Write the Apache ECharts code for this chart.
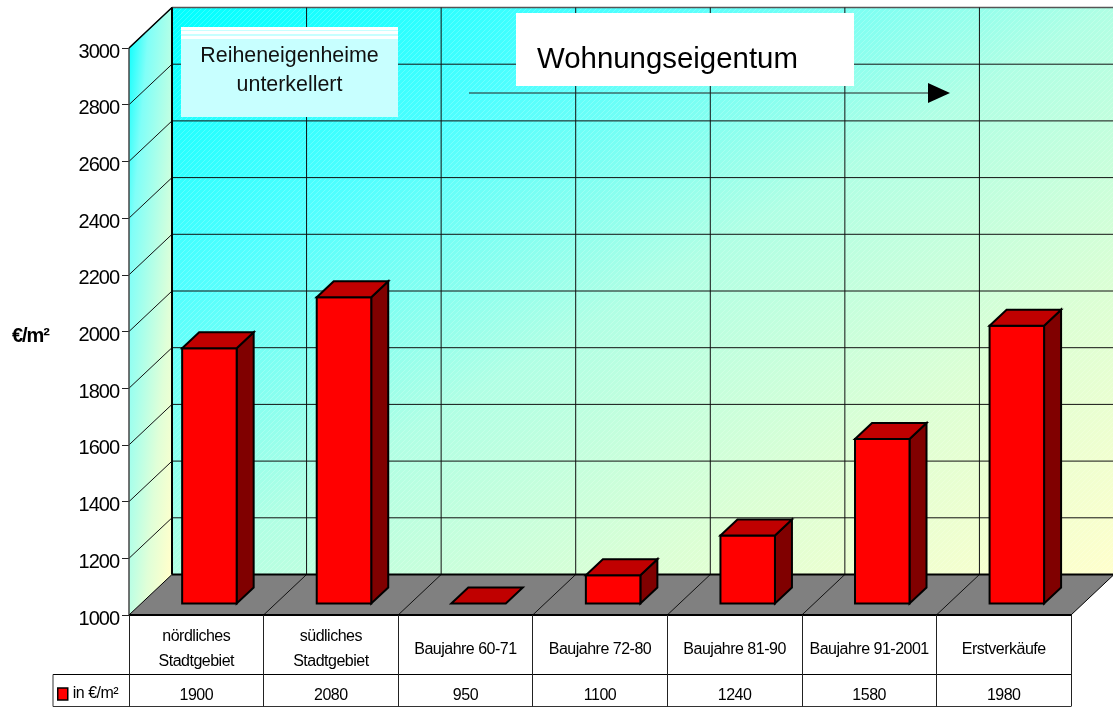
<!DOCTYPE html>
<html><head><meta charset="utf-8">
<style>html,body{margin:0;padding:0;background:#fff}#c{width:1113px;height:709px}</style>
<script src="https://cdn.jsdelivr.net/npm/echarts@6/dist/echarts.min.js"></script>
</head><body><div id="c"></div>
<script>
const categories = ['nördliches\nStadtgebiet','südliches\nStadtgebiet','Baujahre 60-71','Baujahre 72-80','Baujahre 81-90','Baujahre 91-2001','Erstverkäufe'];
const values = [1900,2080,950,1100,1240,1580,1980];
const seriesName = 'in €/m²';
const yMin = 1000, yMax = 3000, yStep = 200;
const FONT = '"Liberation Sans", Arial, sans-serif';
// tight tracking of the axis and table texts, as in the reference
const TRACK = {'20px':'-1px','16px':'-0.5px'};
const origFill = CanvasRenderingContext2D.prototype.fillText;
CanvasRenderingContext2D.prototype.fillText = function(t,x,y,m){
  const s = (this.font.match(/(\d+(?:\.\d+)?px)/)||[])[1];
  this.letterSpacing = TRACK[s] || '0px';
  return m===undefined ? origFill.call(this,t,x,y) : origFill.call(this,t,x,y,m);
};
const chart = echarts.init(document.getElementById('c'));
const WALL = [43,-40.5];
const yTicks = [];
for (let v = yMin; v <= yMax; v += yStep) yTicks.push(v);
const K = '#000';
const tile = document.createElement('canvas');
tile.width = tile.height = 5;
(function(){const c = tile.getContext('2d'); c.fillStyle='rgba(255,255,255,0.2)';
  for(let i=0;i<5;i++) c.fillRect(i,4-i,1,1);})();
function poly(points, fill, stroke, w){
  return {type:'polygon', shape:{points}, style:{fill, stroke:stroke||'none', lineWidth:w||0}, silent:true};
}
function line(a,b,stroke,w){
  return {type:'line', shape:{x1:a[0],y1:a[1],x2:b[0],y2:b[1]}, style:{stroke:stroke||K, lineWidth:w||1}, silent:true};
}
function diagGrad(w,h,stops){
  const k = 2/(1/(w*w)+1/(h*h));
  return new echarts.graphic.LinearGradient(0,0,k/(w*w),k/(h*h),stops);
}
function frame(p, api){
  const n = categories.length;
  const bw = api.size([1,0])[0];
  const xAt = i => api.coord([0,yMin])[0] - bw/2 + i*bw;
  const y0 = api.coord([0,yMin])[1], y1 = api.coord([0,yMax])[1];
  const dx = WALL[0], dy = WALL[1];
  const x0 = xAt(0), xn = xAt(n);
  const grad = diagGrad(xn-x0,y0-y1,[
    {offset:0,color:'#00ffff'},{offset:0.25,color:'#50ffff'},{offset:0.5,color:'#b0ffe4'},{offset:0.75,color:'#dcffd4'},{offset:1,color:'#ffffcc'}]);
  const grad2 = diagGrad(dx,y0-y1,[
    {offset:0,color:'#00ffff'},{offset:0.25,color:'#80fff8'},{offset:0.75,color:'#e0ffd8'},{offset:1,color:'#ffffcc'}]);
  const ch = [];
  const back = [[x0+dx,y1+dy],[xn+dx,y1+dy],[xn+dx,y0+dy],[x0+dx,y0+dy]];
  ch.push(poly(back,grad));
  ch.push({type:'polygon',shape:{points:back},style:{fill:{image:tile,repeat:'repeat'}},silent:true});
  ch.push(poly([[x0,y1],[x0+dx,y1+dy],[x0+dx,y0+dy],[x0,y0]],grad2));
  ch.push(poly([[x0,y0],[x0+dx,y0+dy],[xn+dx,y0+dy],[xn,y0]],'#808080'));
  yTicks.forEach((v,i)=>{
    if(i===0) return;
    const y = api.coord([0,v])[1];
    ch.push(line([x0,y],[x0+dx,y+dy],'#111',1));
    ch.push(line([x0+dx,y+dy],[xn+dx,y+dy],i===yTicks.length-1?'#555':'#111',i===yTicks.length-1?1.5:1));
  });
  for(let i=1;i<n;i++){
    ch.push(line([xAt(i)+dx,y1+dy],[xAt(i)+dx,y0+dy],'#111',1));
    ch.push(line([xAt(i),y0],[xAt(i)+dx,y0+dy],'#111',1));
  }
  ch.push(line([x0+dx,y1+dy],[x0+dx,y0+dy],K,2));
  ch.push(line([x0,y1],[x0,y0],'#444',1.5));
  ch.push(line([x0,y0],[x0+dx,y0+dy],K,1));
  ch.push(line([x0,y1],[x0+dx,y1+dy],K,1.5));
  ch.push(line([x0+dx,y0+dy],[xn+dx,y0+dy],K,2));
  ch.push(line([x0,y0],[xn,y0],K,2));
  ch.push(line([xn,y0],[xn+dx,y0+dy],K,1));
  const r1 = y0+59.5, r2 = y0+91.5, lx = x0-76;
  ch.push(line([lx,r1],[xn,r1],K,1));
  ch.push(line([lx,r2],[xn,r2],'#333',1));
  ch.push(line([lx,r1],[lx,r2],'#333',1));
  return {type:'group', children:ch};
}
function bar(p, api){
  const idx = api.value(0);
  const v = Math.max(api.value(1), yMin);
  const bw = api.size([1,0])[0];
  const c = api.coord([idx,v]);
  const base = api.coord([idx,yMin]);
  const l = c[0]-bw/2 + bw*0.395, w = bw*0.405;
  const off = -11.5, dx = 17, dy = -16;
  const t = c[1]+off, b = base[1]+off, r = l+w;
  const ch = [];
  if (v > yMin) {
    ch.push(poly([[r,t],[r+dx,t+dy],[r+dx,b+dy],[r,b]],'#800000',K,2));
    ch.push(poly([[l,t],[r,t],[r,b],[l,b]],'#ff0000',K,2));
  }
  ch.push(poly([[l,t],[l+dx,t+dy],[r+dx,t+dy],[r,t]],'#c00000',K,2));
  return {type:'group', children:ch};
}
chart.setOption({
  animation:false,
  backgroundColor:'#fff',
  textStyle:{fontFamily:FONT},
  grid:{left:129,top:48,width:942,height:567,containLabel:false},
  legend:{
    data:[{name:seriesName,icon:'rect',itemStyle:{color:'#ff0000',borderColor:'#000',borderWidth:1.5}}],
    left:57,top:686,itemWidth:10,itemHeight:12,itemGap:10,selectedMode:false,padding:0,
    textStyle:{fontFamily:FONT,fontSize:16,color:'#000',verticalAlign:'top',lineHeight:6}
  },
  xAxis:[
    {type:'category',data:categories,position:'bottom',z:3,
     axisLine:{show:false},
     axisTick:{show:true,length:91.5,lineStyle:{color:'#222',width:1}},
     axisLabel:{interval:0,margin:34.5,verticalAlign:'middle',fontFamily:FONT,fontSize:16,color:'#000',lineHeight:25}},
    {type:'category',data:values.map(String),position:'bottom',offset:59,
     axisLine:{show:false},axisTick:{show:false},
     axisLabel:{interval:0,margin:22,verticalAlign:'middle',fontFamily:FONT,fontSize:16,color:'#000'}}
  ],
  yAxis:{type:'value',min:yMin,max:yMax,interval:yStep,
    name:'€/m²',nameLocation:'middle',nameRotate:0,nameGap:80,
    nameTextStyle:{fontFamily:FONT,fontSize:20,fontWeight:'bold',color:'#000',verticalAlign:'top',lineHeight:10},
    axisLine:{show:false},
    axisTick:{show:true,length:7,lineStyle:{color:'#222',width:1}},
    axisLabel:{margin:10,fontFamily:FONT,fontSize:20,color:'#000',verticalAlign:'top',lineHeight:8,formatter:v=>String(v)},
    splitLine:{show:false}},
  graphic:[
    {type:'rect',z:100,shape:{x:181,y:27,width:217,height:90},style:{fill:'#c8ffff'}},
    {type:'rect',z:101,shape:{x:181,y:27,width:217,height:3},style:{fill:'#fff'}},
    {type:'rect',z:101,shape:{x:181,y:31,width:217,height:3},style:{fill:'#fff'}},
    {type:'rect',z:101,shape:{x:181,y:36,width:217,height:3},style:{fill:'#fff'}},
    {type:'text',z:102,x:289.5,y:56.5,style:{text:'Reiheneigenheime',fill:'#111',font:'21.4px '+FONT,align:'center',verticalAlign:'middle'}},
    {type:'text',z:102,x:289.5,y:85.5,style:{text:'unterkellert',fill:'#111',font:'21.4px '+FONT,align:'center',verticalAlign:'middle'}},
    {type:'rect',z:100,shape:{x:516,y:13,width:338,height:73},style:{fill:'#fff'}},
    {type:'text',z:102,x:537,y:59.5,style:{text:'Wohnungseigentum',fill:'#000',font:'29.4px '+FONT,align:'left',verticalAlign:'middle'}},
    {type:'line',z:100,shape:{x1:469,y1:93,x2:930,y2:93},style:{stroke:'#222',lineWidth:1}},
    {type:'polygon',z:101,shape:{points:[[928,83],[950,93],[928,103]]},style:{fill:'#000'}}
  ],
  series:[
    {type:'custom',name:'frame',z:1,silent:true,clip:false,renderItem:frame,data:[0],encode:{x:0},legendHoverLink:false},
    {type:'custom',name:seriesName,z:2,silent:true,clip:false,renderItem:bar,
     itemStyle:{color:'#ff0000'},
     data:values.map((v,i)=>[i,v]),encode:{x:0,y:1}}
  ]
});
</script></body></html>
